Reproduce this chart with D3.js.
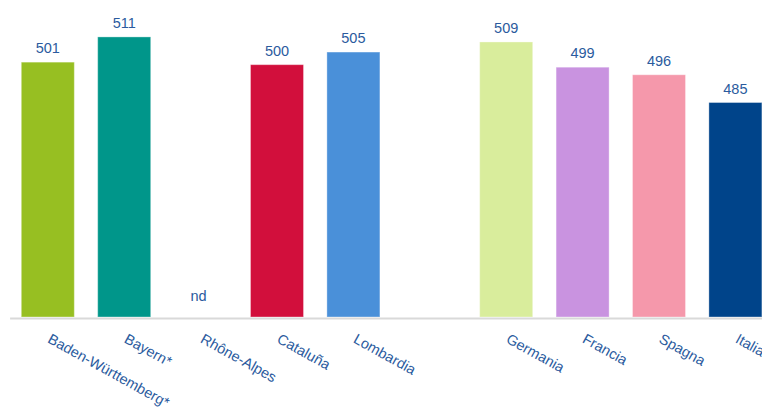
<!DOCTYPE html>
<html>
<head>
<meta charset="utf-8">
<script src="https://cdn.jsdelivr.net/npm/d3@7"></script>
<style>
  html, body { margin: 0; padding: 0; background: #ffffff; overflow: hidden; }
  svg { display: block; font-family: "Liberation Sans", Arial, sans-serif; }
</style>
</head>
<body>
<svg id="chart" width="762" height="410"></svg>
<script>
// Regions and countries; the empty entry is the spacer slot between the two groups
const categories = ["Baden-Württemberg*", "Bayern*", "Rhône-Alpes", "Cataluña", "Lombardia", "", "Germania", "Francia", "Spagna", "Italia"];
// Scores (null = not available / spacer)
const values = [501, 511, null, 500, 505, null, 509, 499, 496, 485];
// Fill per bar
const colors = ["#97bf22", "#00968a", null, "#d20f3c", "#4a90d9", null, "#d9ed9c", "#c993e0", "#f598ab", "#00448a"];
// Text shown where no value exists
const missingLabel = "nd";
const yDomain = [400, 520];

const svg = d3.select("#chart");
const labelColor = "#2b5b9e";
const baseY = 317;

const x = d3.scaleBand()
  .domain(d3.range(categories.length))
  .range([9.6, 773.6])
  .paddingInner(0.306)
  .paddingOuter(0.153);

const y = d3.scaleLinear()
  .domain(yDomain)
  .range([baseY, 14.2]);

const rows = categories.map((c, i) => ({ i, name: c, value: values[i], color: colors[i] }));

// Bars
svg.append("g")
  .selectAll("rect")
  .data(rows.filter(d => d.value != null))
  .join("rect")
  .attr("x", d => x(d.i))
  .attr("width", x.bandwidth())
  .attr("y", d => y(d.value))
  .attr("height", d => y(yDomain[0]) - y(d.value))
  .attr("fill", d => d.color)
  .attr("stroke", "rgba(255,255,255,0.35)")
  .attr("stroke-width", 1);

// Value labels above bars, "nd" where the category has no value
svg.append("g")
  .selectAll("text")
  .data(rows.filter(d => d.name !== ""))
  .join("text")
  .attr("x", d => x(d.i) + x.bandwidth() / 2 - (d.value == null ? 2 : 0))
  .attr("y", d => d.value == null ? 301 : y(d.value) - 9)
  .attr("text-anchor", "middle")
  .attr("font-size", "14.5px")
  .attr("fill", labelColor)
  .text(d => d.value == null ? missingLabel : d.value);

// Category axis
const axis = d3.axisBottom(x)
  .tickSize(0)
  .tickSizeOuter(0)
  .tickFormat(i => categories[i]);

const gx = svg.append("g")
  .attr("transform", `translate(0,${baseY + 1})`)
  .call(axis);

gx.select(".domain")
  .attr("stroke", "#d9d9d9")
  .attr("stroke-width", 2);

gx.selectAll(".tick text")
  .attr("x", 0)
  .attr("y", 0)
  .attr("dy", 0)
  .attr("text-anchor", "start")
  .attr("transform", "translate(-1,24) rotate(29)")
  .attr("font-size", "14.5px")
  .attr("font-family", "\"Liberation Sans\", Arial, sans-serif")
  .attr("fill", labelColor);
</script>
</body>
</html>
